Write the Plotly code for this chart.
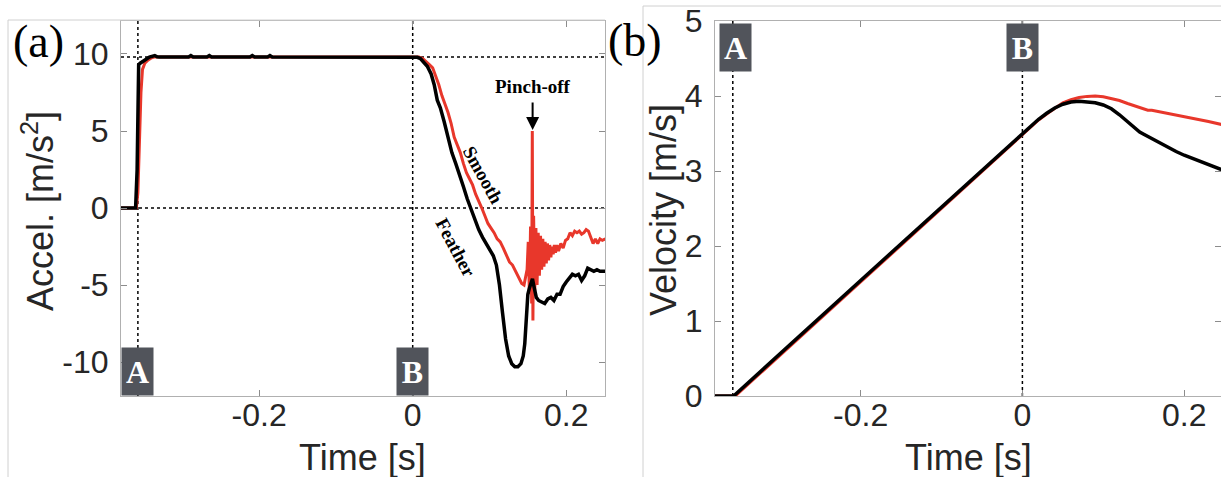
import plotly.graph_objects as go

W, H = 1221, 477

# ---------------- data ----------------
t_A = -0.358          # event A time [s]
t_B = 0.0             # event B time [s]
g_level = 9.81        # free-fall acceleration level

# Panel (a): acceleration
acc_feather_t = [-0.380, -0.361, -0.359, -0.357, -0.355, -0.351, -0.347, -0.343, -0.336, -0.333,
                 -0.330, -0.292, -0.289, -0.286, -0.268, -0.265, -0.262, -0.212, -0.209, -0.206,
                 -0.189, -0.186, -0.183, 0.000, 0.006, 0.010, 0.014, 0.019, 0.024, 0.028,
                 0.032, 0.036, 0.041, 0.046, 0.051, 0.056, 0.061, 0.066, 0.071, 0.076,
                 0.081, 0.086, 0.091, 0.096, 0.101, 0.105, 0.109, 0.113, 0.117, 0.121,
                 0.125, 0.129, 0.133, 0.137, 0.141, 0.144, 0.146, 0.148, 0.150, 0.152,
                 0.154, 0.156, 0.158, 0.161, 0.164, 0.168, 0.172, 0.176, 0.180, 0.184,
                 0.188, 0.192, 0.196, 0.200, 0.204, 0.208, 0.212, 0.216, 0.220, 0.224,
                 0.228, 0.232, 0.236, 0.240, 0.244, 0.248, 0.251]
acc_feather = [0.0, 0.0, 2.5, 9.3, 9.4, 9.55, 9.7, 9.8, 9.9, 9.82,
               9.81, 9.81, 9.9, 9.81, 9.81, 9.9, 9.81, 9.81, 9.9, 9.81,
               9.81, 9.9, 9.81, 9.81, 9.78, 9.7, 9.5, 9.2, 8.7, 8.0,
               7.0, 6.5, 5.6, 4.5, 3.6, 2.9, 2.2, 1.4, 0.6, -0.1,
               -0.8, -1.4, -1.9, -2.3, -2.7, -3.1, -3.7, -5.0, -6.8, -8.5,
               -9.6, -10.1, -10.3, -10.3, -10.1, -9.6, -8.8, -6.8, -5.6, -5.2,
               -4.8, -4.6, -5.1, -5.8, -6.0, -6.1, -6.2, -5.9, -5.8, -6.0,
               -5.6, -5.6, -5.1, -4.8, -4.5, -4.3, -4.4, -4.3, -4.7, -4.4,
               -3.9, -4.0, -4.1, -4.0, -4.1, -4.1, -4.1]

acc_smooth_t = [-0.380, -0.360, -0.358, -0.356, -0.354, -0.352, -0.349, -0.345, -0.340, -0.336,
                0.000, 0.008, 0.013, 0.018, 0.022, 0.026, 0.030, 0.034, 0.038, 0.042,
                0.046, 0.050, 0.054, 0.058, 0.062, 0.066, 0.070, 0.074, 0.078, 0.082,
                0.086, 0.090, 0.094, 0.098, 0.102, 0.106, 0.110, 0.114, 0.118, 0.122,
                0.126, 0.130, 0.134, 0.138, 0.142, 0.145, 0.147, 0.149, 0.1505, 0.152,
                0.1535, 0.155, 0.1558, 0.1566, 0.1575, 0.159, 0.1605, 0.162, 0.1635, 0.165,
                0.1665, 0.168, 0.1695, 0.171, 0.1725, 0.174, 0.1755, 0.177, 0.1785, 0.180,
                0.1815, 0.183, 0.1845, 0.186, 0.188, 0.190, 0.193, 0.196, 0.199, 0.202,
                0.205, 0.208, 0.211, 0.214, 0.217, 0.220, 0.223, 0.226, 0.229, 0.232,
                0.235, 0.238, 0.241, 0.244, 0.247, 0.251]
acc_smooth = [0.0, 0.0, 1.0, 5.0, 7.5, 9.0, 9.4, 9.6, 9.75, 9.81,
              9.81, 9.8, 9.7, 9.5, 9.3, 9.1, 8.6, 8.0, 7.3, 6.8,
              6.2, 5.5, 4.6, 4.1, 3.6, 2.9, 2.3, 1.9, 1.5, 0.9,
              0.5, 0.0, -0.5, -1.0, -1.3, -1.6, -2.0, -2.2, -2.6, -3.0,
              -3.5, -3.7, -4.1, -4.5, -4.9, -5.0, -4.5, -4.0, -2.2, -5.6,
              -1.2, -6.2, 5.0, -7.3, -0.5, -5.4, -1.3, -5.0, -1.6, -4.4,
              -1.8, -4.0, -2.0, -3.8, -2.2, -3.6, -2.3, -3.4, -2.4, -3.2,
              -2.5, -3.0, -2.4, -2.9, -2.4, -2.8, -2.3, -2.6, -2.1, -2.0,
              -1.6, -1.8, -1.5, -1.6, -1.5, -1.7, -1.6, -1.4, -1.5, -1.9,
              -2.3, -2.0, -2.3, -2.0, -2.1, -2.0]

# Panel (b): velocity
vel_feather_t = [-0.380, -0.357, -0.200, 0.000, 0.010, 0.020, 0.030, 0.040, 0.050, 0.060,
                 0.070, 0.080, 0.090, 0.100, 0.110, 0.120, 0.130, 0.140, 0.145, 0.150,
                 0.160, 0.170, 0.180, 0.190, 0.200, 0.210, 0.220, 0.230, 0.246]
vel_feather = [0.0, 0.0, 1.54, 3.50, 3.60, 3.69, 3.77, 3.84, 3.89, 3.92,
               3.93, 3.925, 3.91, 3.88, 3.83, 3.75, 3.66, 3.56, 3.52, 3.49,
               3.43, 3.37, 3.31, 3.26, 3.21, 3.17, 3.12, 3.08, 3.02]

vel_smooth_t = [-0.380, -0.355, -0.200, 0.000, 0.010, 0.020, 0.030, 0.040, 0.050, 0.060,
                0.070, 0.080, 0.090, 0.100, 0.110, 0.120, 0.130, 0.140, 0.150, 0.155,
                0.160, 0.170, 0.180, 0.190, 0.200, 0.210, 0.220, 0.230, 0.246]
vel_smooth = [0.0, 0.0, 1.52, 3.48, 3.59, 3.68, 3.76, 3.84, 3.91, 3.95,
              3.98, 3.995, 4.0, 3.99, 3.97, 3.94, 3.90, 3.86, 3.83, 3.81,
              3.81, 3.79, 3.76, 3.74, 3.72, 3.70, 3.68, 3.66, 3.62]

x_ticks = [-0.2, 0, 0.2]
x_ticktext = ["-0.2", "0", "0.2"]
acc_ticks = [-10, -5, 0, 5, 10]
acc_ticktext = ["-10", "-5", "0", "5", "10"]
vel_ticks = [0, 1, 2, 3, 4, 5]
vel_ticktext = ["0", "1", "2", "3", "4", "5"]

# ---------------- figure ----------------
RED = "#e8372b"
BLACK = "#000000"
SANS = "Liberation Sans, Arial, sans-serif"
SERIF = "Liberation Serif, Times New Roman, serif"
TXT = "#262626"
AXC = "#b0b0b0"


def px(x):
    return x / W


def py(y):
    return 1 - y / H


fig = go.Figure()
fig.add_trace(go.Scatter(x=acc_smooth_t, y=acc_smooth, mode="lines",
                         line=dict(color=RED, width=3), xaxis="x", yaxis="y",
                         name="Smooth"))
fig.add_trace(go.Scatter(x=acc_feather_t, y=acc_feather, mode="lines",
                         line=dict(color=BLACK, width=3.5), xaxis="x", yaxis="y",
                         name="Feather"))
fig.add_trace(go.Scatter(x=vel_smooth_t, y=vel_smooth, mode="lines",
                         line=dict(color=RED, width=3), xaxis="x2", yaxis="y2",
                         name="Smooth"))
fig.add_trace(go.Scatter(x=vel_feather_t, y=vel_feather, mode="lines",
                         line=dict(color=BLACK, width=3.5), xaxis="x2", yaxis="y2",
                         name="Feather"))

common_axis = dict(showline=True, linecolor=AXC, linewidth=1, mirror="ticks",
                   ticks="inside", ticklen=6, tickcolor="#8c8c8c", tickwidth=1,
                   showgrid=False, zeroline=False, automargin=False,
                   tickfont=dict(family=SANS, size=32, color=TXT))
x_axis_style = dict(common_axis, ticklabelstandoff=-9)
y_axis_style = dict(common_axis, ticklabelstandoff=5)

ydom = [py(396), py(21)]
fig.update_layout(
    width=W, height=H, margin=dict(l=0, r=0, t=0, b=0, pad=0, autoexpand=False),
    paper_bgcolor="white", plot_bgcolor="white", showlegend=False,
    xaxis=dict(domain=[px(121), px(605)], range=[-0.38, 0.2505], anchor="y",
               tickvals=x_ticks, ticktext=x_ticktext, **x_axis_style),
    yaxis=dict(domain=ydom, range=[-12.2, 12.14], anchor="x",
               tickvals=acc_ticks, ticktext=acc_ticktext, **y_axis_style),
    xaxis2=dict(domain=[px(715), 1.0], range=[-0.38, 0.2455], anchor="y2",
                tickvals=x_ticks, ticktext=x_ticktext, **x_axis_style),
    yaxis2=dict(domain=ydom, range=[0, 5], anchor="x2",
                tickvals=vel_ticks, ticktext=vel_ticktext, **y_axis_style),
)

dot = dict(color="black", width=1.5, dash="dot")
shapes = [
    # panel (a) reference lines
    dict(type="line", xref="x", yref="y", x0=t_A, x1=t_A, y0=-12.2, y1=12.14, line=dot, layer="below"),
    dict(type="line", xref="x", yref="y", x0=t_B, x1=t_B, y0=-12.2, y1=12.14, line=dot, layer="below"),
    dict(type="line", xref="x", yref="y", x0=-0.38, x1=0.2505, y0=0, y1=0, line=dot, layer="below"),
    dict(type="line", xref="x", yref="y", x0=-0.38, x1=0.2505, y0=g_level, y1=g_level, line=dot, layer="below"),
    # panel (b) reference lines
    dict(type="line", xref="x2", yref="y2", x0=t_A, x1=t_A, y0=0, y1=5, line=dot, layer="below"),
    dict(type="line", xref="x2", yref="y2", x0=t_B, x1=t_B, y0=0, y1=5, line=dot, layer="below"),
    # sub-figure frames
    dict(type="line", xref="paper", yref="paper", x0=px(8), x1=px(8), y0=0, y1=py(20),
         line=dict(color="#d0d0d0", width=1)),
    dict(type="line", xref="paper", yref="paper", x0=px(8), x1=px(605), y0=py(20), y1=py(20),
         line=dict(color="#d0d0d0", width=1)),
    dict(type="line", xref="paper", yref="paper", x0=px(643), x1=px(643), y0=0, y1=py(6),
         line=dict(color="#d0d0d0", width=1)),
    dict(type="line", xref="paper", yref="paper", x0=px(643), x1=1, y0=py(6), y1=py(6),
         line=dict(color="#d0d0d0", width=1)),
]
fig.update_layout(shapes=shapes)

BOX = "#51545b"
box_font = dict(family=SERIF, size=32, color="white")
ann = [
    # event boxes
    dict(xref="x", yref="y", x=t_A, y=-12.2, text="<b>A</b>", showarrow=False,
         xanchor="center", yanchor="bottom", bgcolor=BOX, width=31, height=47,
         borderpad=0, font=box_font),
    dict(xref="x", yref="y", x=t_B, y=-12.2, text="<b>B</b>", showarrow=False,
         xanchor="center", yanchor="bottom", bgcolor=BOX, width=31, height=47,
         borderpad=0, font=box_font),
    dict(xref="x2", yref="y2", x=t_A, y=4.97, text="<b>A</b>", showarrow=False,
         xanchor="center", yanchor="top", bgcolor=BOX, width=31, height=47, xshift=3,
         borderpad=0, font=box_font),
    dict(xref="x2", yref="y2", x=t_B, y=4.97, text="<b>B</b>", showarrow=False,
         xanchor="center", yanchor="top", bgcolor=BOX, width=31, height=47,
         borderpad=0, font=box_font),
    # curve labels
    dict(xref="x", yref="y", x=0.0924, y=2.14, text="<b>Smooth</b>", showarrow=False,
         textangle=61, font=dict(family=SERIF, size=19, color="black")),
    dict(xref="x", yref="y", x=0.0559, y=-2.55, text="<b>Feather</b>", showarrow=False,
         textangle=62, font=dict(family=SERIF, size=19, color="black")),
    dict(xref="x", yref="y", x=0.1562, y=7.88, text="<b>Pinch-off</b>", showarrow=False,
         font=dict(family=SERIF, size=19, color="black")),
    dict(xref="x", yref="y", x=0.1562, y=5.06, text="", showarrow=True, ax=0, ay=-29,
         arrowhead=2, arrowsize=1.3, arrowwidth=2, arrowcolor="black", standoff=0),
    # panel labels
    dict(xref="paper", yref="paper", x=px(38.5), y=py(42), text="(a)", showarrow=False,
         xanchor="center", yanchor="middle", font=dict(family=SERIF, size=46, color="black")),
    dict(xref="paper", yref="paper", x=px(635), y=py(40), text="(b)", showarrow=False,
         xanchor="center", yanchor="middle", font=dict(family=SERIF, size=46, color="black")),
    # axis titles
    dict(xref="paper", yref="paper", x=px(38), y=py(211), text="Accel. [m/s<sup>2</sup>]",
         showarrow=False, textangle=-90, xanchor="center", yanchor="middle",
         font=dict(family=SANS, size=36, color=TXT)),
    dict(xref="paper", yref="paper", x=px(663), y=py(210), text="Velocity [m/s]",
         showarrow=False, textangle=-90, xanchor="center", yanchor="middle",
         font=dict(family=SANS, size=36, color=TXT)),
    dict(xref="paper", yref="paper", x=px(362), y=py(457), text="Time [s]",
         showarrow=False, xanchor="center", yanchor="middle",
         font=dict(family=SANS, size=36, color=TXT)),
    dict(xref="paper", yref="paper", x=px(968), y=py(457), text="Time [s]",
         showarrow=False, xanchor="center", yanchor="middle",
         font=dict(family=SANS, size=36, color=TXT)),
]
fig.update_layout(annotations=ann)

fig.write_html("out.html", config={"displayModeBar": False},
               post_script="document.body.style.margin='0px';document.body.style.overflow='hidden';")
